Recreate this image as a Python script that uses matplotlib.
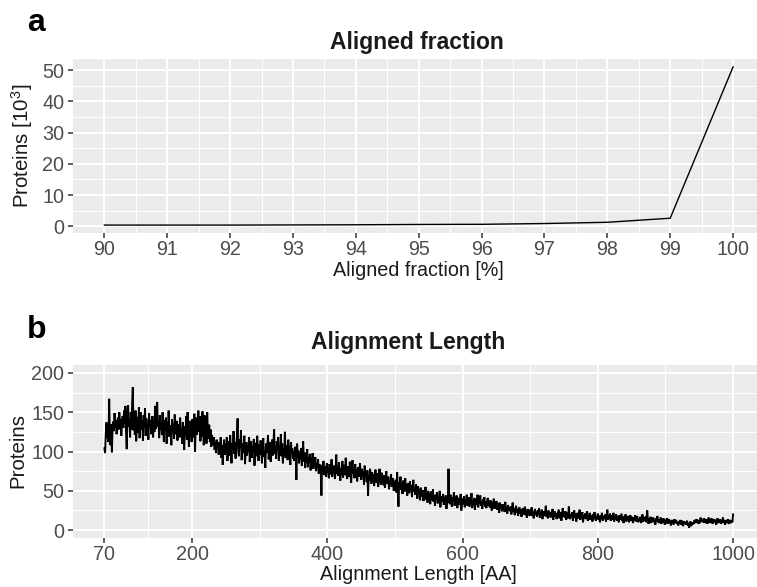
import numpy as np
import matplotlib
matplotlib.use("Agg")
import matplotlib.pyplot as plt

# ---------------- data ----------------
frac_x = [90, 91, 92, 93, 94, 95, 96, 97, 98, 99, 100]
frac_y = [0.4, 0.4, 0.4, 0.45, 0.5, 0.6, 0.65, 0.9, 1.3, 2.6, 51.0]   # Proteins [10^3]
frac_ticks = [90, 91, 92, 93, 94, 95, 96, 97, 98, 99, 100]
frac_yticks = [0, 10, 20, 30, 40, 50]

len_start = 70
len_counts = [
    104, 98, 122, 137, 118, 128, 112, 167, 120, 108,
    135, 99, 128, 138, 126, 149, 131, 140, 122, 136,
    143, 128, 150, 133, 141, 120, 139, 145, 130, 152,
    136, 158, 124, 103, 148, 159, 132, 140, 118, 150,
    128, 161, 182, 127, 140, 121, 152, 113, 135, 144,
    124, 156, 117, 138, 150, 128, 139, 114, 146, 131,
    155, 120, 142, 126, 136, 115, 149, 133, 140, 122,
    130, 145, 118, 137, 125, 158, 129, 141, 163, 132,
    138, 117, 146, 128, 135, 121, 150, 126, 112, 140,
    131, 143, 110, 137, 124, 152, 119, 133, 128, 108,
    141, 125, 136, 116, 147, 122, 130, 139, 114, 127,
    135, 118, 143, 121, 129, 110, 137, 124, 102, 132,
    120, 145, 115, 150, 128, 106, 139, 123, 133, 112,
    141, 126, 118, 148, 100, 132, 143, 121, 138, 152,
    125, 145, 113, 140, 119, 151, 130, 108, 146, 127,
    137, 110, 150, 124, 116, 134, 112, 128, 106, 121,
    114, 108, 118, 102, 112, 98, 115, 106, 110, 96,
    112, 101, 118, 92, 108, 83, 104, 115, 96, 110,
    99, 118, 88, 107, 113, 95, 121, 102, 85, 110,
    104, 126, 97, 112, 91, 108, 119, 142, 100, 94,
    115, 105, 127, 89, 110, 98, 106, 120, 84, 102,
    112, 95, 108, 100, 118, 87, 104, 113, 92, 107,
    99, 116, 82, 105, 111, 94, 120, 101, 88, 109,
    96, 114, 103, 85, 108, 117, 93, 101, 79, 110,
    98, 106, 121, 90, 104, 112, 87, 100, 115, 95,
    108, 128, 97, 105, 91, 113, 102, 118, 88, 106,
    99, 122, 94, 110, 85, 104, 97, 125, 92, 108,
    101, 89, 115, 96, 107, 83, 112, 98, 104, 91,
    100, 88, 106, 95, 64, 110, 92, 101, 85, 97,
    90, 104, 82, 96, 113, 87, 99, 79, 94, 86,
    103, 80, 92, 88, 97, 76, 91, 84, 98, 78,
    87, 82, 93, 75, 85, 79, 90, 72, 84, 80,
    76, 44, 83, 74, 88, 70, 81, 77, 68, 85,
    73, 79, 66, 84, 75, 71, 90, 68, 78, 74,
    82, 65, 77, 96, 72, 80, 69, 86, 74, 63,
    79, 71, 88, 67, 76, 83, 70, 92, 73, 65,
    81, 74, 68, 87, 71, 60, 78, 89, 72, 76,
    66, 84, 70, 77, 62, 80, 73, 68, 85, 71,
    64, 78, 69, 75, 58, 82, 67, 73, 61, 76,
    44, 70, 63, 78, 66, 59, 74, 62, 71, 56,
    68, 77, 60, 65, 72, 55, 69, 78, 63, 58,
    73, 61, 66, 57, 70, 54, 64, 75, 59, 62,
    68, 52, 63, 58, 71, 55, 60, 66, 50, 62,
    57, 64, 48, 74, 53, 30, 61, 56, 68, 51,
    59, 46, 63, 55, 49, 66, 52, 58, 44, 60,
    54, 47, 62, 51, 57, 42, 55, 64, 49, 53,
    45, 58, 50, 40, 56, 47, 52, 38, 54, 46,
    43, 51, 37, 48, 44, 55, 39, 46, 35, 50,
    42, 47, 33, 49, 41, 38, 52, 36, 44, 31,
    45, 39, 48, 34, 42, 37, 50, 29, 43, 40,
    36, 46, 32, 41, 38, 44, 27, 40, 35, 78,
    41, 33, 45, 37, 30, 42, 36, 48, 31, 39,
    34, 44, 28, 38, 41, 32, 36, 46, 25, 37,
    40, 33, 43, 29, 38, 35, 45, 31, 36, 42,
    30, 39, 34, 47, 28, 37, 33, 41, 26, 36,
    40, 32, 45, 29, 38, 34, 44, 31, 36, 27,
    39, 33, 42, 30, 37, 28, 35, 41, 31, 34,
    29, 38, 32, 25, 36, 30, 40, 27, 33, 31,
    37, 26, 34, 30, 22, 35, 28, 32, 24, 33,
    27, 31, 23, 36, 26, 29, 21, 32, 25, 28,
    24, 30, 20, 27, 35, 23, 28, 19, 26, 31,
    22, 27, 18, 25, 29, 21, 26, 17, 24, 28,
    20, 25, 30, 19, 23, 16, 27, 21, 24, 18,
    26, 21, 29, 18, 24, 15, 22, 27, 19, 23,
    17, 25, 20, 28, 16, 22, 19, 26, 14, 21,
    24, 18, 23, 31, 17, 21, 15, 25, 20, 22,
    16, 23, 19, 27, 13, 21, 24, 17, 20, 14,
    22, 18, 26, 15, 20, 23, 12, 19, 28, 17,
    21, 16, 24, 13, 19, 22, 15, 30, 18, 14,
    20, 17, 23, 12, 19, 25, 16, 21, 11, 18,
    22, 15, 19, 26, 13, 20, 17, 23, 10, 18,
    16, 21, 14, 19, 24, 12, 18, 15, 22, 13,
    19, 16, 11, 20, 14, 23, 17, 12, 18, 15,
    21, 13, 17, 10, 19, 15, 22, 12, 16, 18,
    14, 20, 11, 17, 26, 13, 18, 15, 21, 12,
    16, 19, 13, 22, 11, 17, 14, 20, 12, 18,
    15, 10, 19, 13, 17, 21, 12, 16, 9, 18,
    14, 20, 11, 16, 13, 18, 10, 15, 19, 12,
    17, 13, 9, 16, 12, 19, 14, 11, 18, 13,
    10, 15, 12, 17, 9, 14, 20, 11, 16, 13,
    12, 18, 10, 25, 13, 8, 15, 11, 17, 9,
    14, 12, 16, 10, 13, 7, 15, 11, 18, 12,
    9, 14, 11, 16, 8, 13, 10, 15, 12, 7,
    13, 10, 15, 8, 12, 14, 9, 11, 6, 13,
    10, 12, 7, 14, 9, 11, 13, 8, 10, 6,
    11, 9, 13, 7, 10, 12, 5, 9, 11, 8,
    10, 7, 12, 6, 9, 3, 8, 11, 5, 9,
    7, 10, 8, 13, 9, 11, 14, 10, 12, 8,
    13, 9, 16, 11, 14, 10, 12, 15, 9, 13,
    11, 14, 8, 12, 16, 10, 13, 9, 15, 11,
    8, 12, 14, 10, 13, 7, 11, 15, 9, 12,
    10, 14, 8, 12, 11, 16, 9, 13, 7, 11,
    12, 9, 14, 10, 8, 13, 11, 9, 12, 10,
    20,
]
len_x = list(range(len_start, len_start + len(len_counts)))
len_ticks = [70, 200, 400, 600, 800, 1000]
len_minor = [135, 300, 500, 700, 900]
len_yticks = [0, 50, 100, 150, 200]
len_yminor = [25, 75, 125, 175]

# ---------------- style ----------------
W, H = 757, 587
DPI = 100
plt.rcParams['font.family'] = ['Liberation Sans', 'DejaVu Sans']
plt.rcParams['mathtext.fontset'] = 'custom'
plt.rcParams['mathtext.rm'] = 'Liberation Sans'

PANEL = '#EBEBEB'
TICKTXT = '#4D4D4D'
TICKCOL = '#333333'
FS = 14.2

fig = plt.figure(figsize=(W / DPI, H / DPI), dpi=DPI)


def ax_at(left, top, right, bottom):
    return fig.add_axes([left / W, 1 - bottom / H, (right - left) / W, (bottom - top) / H])


def fx(px):
    return px / W


def fy(py):
    return 1 - py / H


def style(ax, xmaj, xmin, ymaj, ymin):
    ax.set_facecolor(PANEL)
    for s in ax.spines.values():
        s.set_visible(False)
    for v in xmin:
        ax.axvline(v, color='white', lw=0.7, zorder=0.5)
    for v in ymin:
        ax.axhline(v, color='white', lw=0.7, zorder=0.5)
    for v in xmaj:
        ax.axvline(v, color='white', lw=1.4, zorder=0.6)
    for v in ymaj:
        ax.axhline(v, color='white', lw=1.4, zorder=0.6)
    ax.set_xticks(xmaj)
    ax.set_yticks(ymaj)
    ax.tick_params(axis='both', which='major', length=3.8, width=1.1, color=TICKCOL,
                   labelcolor=TICKTXT, labelsize=FS)
    ax.tick_params(axis='x', pad=1.5)
    ax.tick_params(axis='y', pad=2.5)


# ---- panel a ----
axa = ax_at(73, 59, 764.5, 233)
axa.plot(frac_x, frac_y, color='black', lw=1.0, zorder=3)
lo, hi = min(frac_y), max(frac_y)
pad = 0.05 * (hi - lo)
style(axa, frac_ticks, [v + 0.5 for v in frac_ticks[:-1]], frac_yticks,
      [5, 15, 25, 35, 45])
axa.set_xlim(89.5, 100.5)
axa.set_ylim(lo - pad, hi + pad)

# ---- panel b ----
axb = ax_at(73, 365, 764.5, 538)
axb.plot(len_x, len_counts, color='black', lw=1.4, zorder=3, solid_joinstyle='miter')
span = len_x[-1] - len_x[0]
style(axb, len_ticks, len_minor, len_yticks, len_yminor)
axb.set_xlim(len_x[0] - 0.05 * span, len_x[-1] + 0.05 * span)
axb.set_ylim(-10, 210)

# ---- texts ----
fig.text(fx(27), fy(31), 'a', fontsize=23, fontweight='bold', ha='left', va='baseline')
fig.text(fx(27), fy(338), 'b', fontsize=23, fontweight='bold', ha='left', va='baseline')

fig.text(fx(417), fy(49), 'Aligned fraction', fontsize=16.5, fontweight='bold',
         color='#1A1A1A', ha='center', va='baseline')
fig.text(fx(408), fy(349), 'Alignment Length', fontsize=16.5, fontweight='bold',
         color='#1A1A1A', ha='center', va='baseline')

fig.text(fx(418.5), fy(271), 'Aligned fraction [%]', fontsize=FS, color='#1A1A1A',
         ha='center', va='center')
fig.text(fx(418.5), fy(575), 'Alignment Length [AA]', fontsize=FS, color='#1A1A1A',
         ha='center', va='center')

fig.text(fx(22), fy(146), r'Proteins [$\mathregular{10^3}$]', fontsize=14.8, color='#1A1A1A',
         rotation=90, ha='center', va='center')
fig.text(fx(18), fy(451), 'Proteins', fontsize=14.8, color='#1A1A1A',
         rotation=90, ha='center', va='center')

fig.savefig('out.png', dpi=DPI)
